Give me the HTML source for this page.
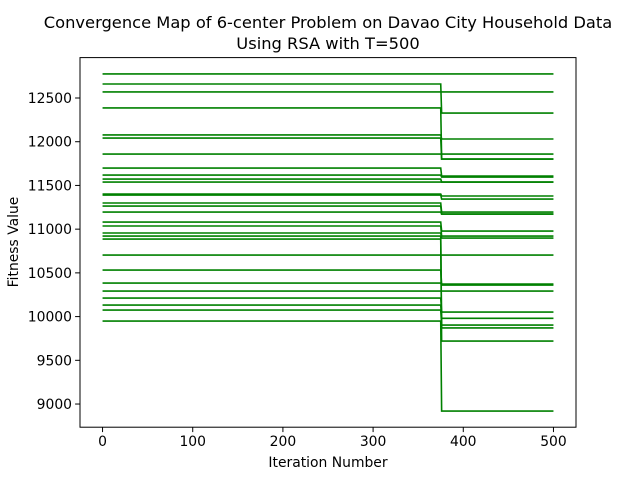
<!DOCTYPE html>
<html><head><meta charset="utf-8">
<style>
body{margin:0;background:#fff;}
svg text{font-family:"DejaVu Sans","Liberation Sans",sans-serif;fill:#000;}
</style></head>
<body>
<svg id="chart" width="640" height="480" xmlns="http://www.w3.org/2000/svg">
<text x="328" y="28" font-size="16.3" text-anchor="middle">Convergence Map of 6-center Problem on Davao City Household Data</text>
<text x="328" y="49" font-size="16.3" text-anchor="middle">Using RSA with T=500</text>
<g id="plot"></g>
<rect x="80" y="57.6" width="496" height="369.6" fill="none" stroke="#000" stroke-width="1"/>
<g id="xticks"></g>
<g id="yticks"></g>
<text x="328" y="467" font-size="13.9" text-anchor="middle">Iteration Number</text>
<text transform="translate(18,242) rotate(-90)" font-size="13.9" text-anchor="middle">Fitness Value</text>
</svg>
<script>
const startValues = [12775,12660,12569,12386,12077,12042,11859,11699,11619,11573,11539,11402,11390,11299,11264,11196,11081,11036,10956,10921,10887,10704,10532,10383,10292,10212,10132,10075,9949];
const endValues   = [12775,12328,12569,11802,12031,11802,11859,11608,11596,11539,11539,11379,11344,11196,11173,11173,10978,10921,10898,9870,9720,10704,10372,10361,10292,10052,9980,9903,8919];
const dropIteration = 375;
const lastIteration = 500;
const xTicks = [0,100,200,300,400,500];
const yTicks = [9000,9500,10000,10500,11000,11500,12000,12500];

const X0=80,X1=576,Y0=57.6,Y1=427.2;
const xmin=-25,xmax=525,ymin=8735,ymax=12962;
const sx=v=>X0+(v-xmin)/(xmax-xmin)*(X1-X0);
const sy=v=>Y1-(v-ymin)/(ymax-ymin)*(Y1-Y0);
const NS="http://www.w3.org/2000/svg";
const plot=document.getElementById('plot');
startValues.forEach((a,i)=>{
  const b=endValues[i];
  const p=document.createElementNS(NS,'polyline');
  
  
  p.setAttribute('points',[[0,a],[dropIteration,a],[dropIteration+1,b],[lastIteration,b]].map(q=>sx(q[0]).toFixed(2)+','+sy(q[1]).toFixed(2)).join(' '));
  p.setAttribute('fill','none');p.setAttribute('stroke','#008000');p.setAttribute('stroke-width','1.6');
  plot.appendChild(p);
});
const xg=document.getElementById('xticks');
xTicks.forEach(t=>{
  const l=document.createElementNS(NS,'line');
  
  
  l.setAttribute('x1',sx(t));l.setAttribute('x2',sx(t));l.setAttribute('y1',Y1);l.setAttribute('y2',Y1+4.9);l.setAttribute('stroke','#000');
  xg.appendChild(l);
  const tx=document.createElementNS(NS,'text');
  
  
  tx.setAttribute('x',sx(t));tx.setAttribute('y',Y1+19);tx.setAttribute('font-size','13.9');tx.setAttribute('text-anchor','middle');
  tx.textContent=t;xg.appendChild(tx);
});
const yg=document.getElementById('yticks');
yTicks.forEach(t=>{
  const l=document.createElementNS(NS,'line');
  
  
  l.setAttribute('x1',X0-4.9);l.setAttribute('x2',X0);l.setAttribute('y1',sy(t));l.setAttribute('y2',sy(t));l.setAttribute('stroke','#000');
  yg.appendChild(l);
  const tx=document.createElementNS(NS,'text');
  
  
  tx.setAttribute('x',X0-8);tx.setAttribute('y',sy(t)+5);tx.setAttribute('font-size','13.9');tx.setAttribute('text-anchor','end');
  tx.textContent=t;yg.appendChild(tx);
});
</script>
</body></html>
